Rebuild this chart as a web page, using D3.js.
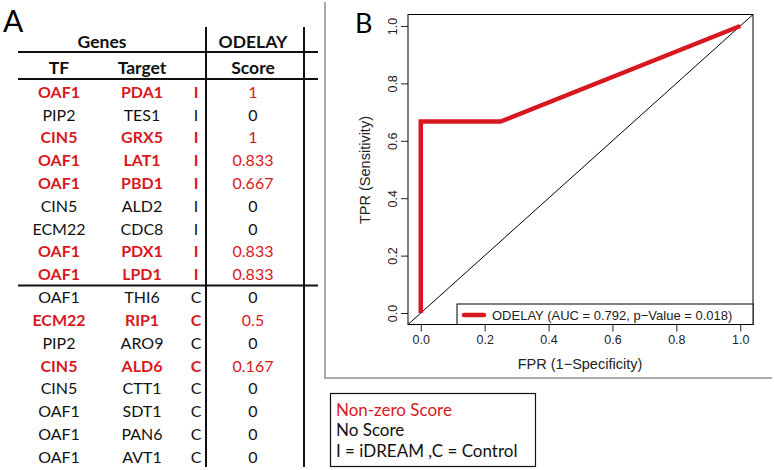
<!DOCTYPE html>
<html><head><meta charset="utf-8">
<script src="https://cdn.jsdelivr.net/npm/d3@7"></script>
<style>body{margin:0;background:#fff}svg{display:block}</style>
</head><body>
<svg id="c" width="774" height="470"></svg>
<script>
// ---- Table data (panel A) ----
const tfGenes = ["OAF1","PIP2","CIN5","OAF1","OAF1","CIN5","ECM22","OAF1","OAF1","OAF1","ECM22","PIP2","CIN5","CIN5","OAF1","OAF1","OAF1"];
const targetGenes = ["PDA1","TES1","GRX5","LAT1","PBD1","ALD2","CDC8","PDX1","LPD1","THI6","RIP1","ARO9","ALD6","CTT1","SDT1","PAN6","AVT1"];
const groups = ["I","I","I","I","I","I","I","I","I","C","C","C","C","C","C","C","C"];
const scores = ["1","0","1","0.833","0.667","0","0","0.833","0.833","0","0.5","0","0.167","0","0","0","0"];
// ---- ROC data (panel B) ----
const fpr = [0, 0, 0.25, 1];
const tpr = [0, 0.667, 0.667, 1];
const xTicks = [0, 0.2, 0.4, 0.6, 0.8, 1.0];
const yTicks = [0, 0.2, 0.4, 0.6, 0.8, 1.0];
const legendLabel = "ODELAY (AUC = 0.792, p\u2212Value = 0.018)";
const keyLines = ["Non-zero Score", "No Score", "I = iDREAM ,C = Control"];

const svg = d3.select("#c");
const RED = "#d7191f";
const tfont = "Lato, 'Open Sans', sans-serif";
const pfont = "'Liberation Sans', Arial, sans-serif";

// ===== Panel A =====
const A = svg.append("g");
A.append("text").attr("x", 3).attr("y", 32).attr("font-family", tfont).attr("font-size", 30).text("A");
const colX = {tf: 59, target: 142, grp: 196, score: 253};
const rowY = d3.scaleLinear().domain([0, tfGenes.length - 1]).range([92, 457]);
const hdr = (t, xx, yy) => A.append("text").attr("x", xx).attr("y", yy).attr("text-anchor", "middle")
  .attr("font-family", tfont).attr("font-weight", "bold").attr("font-size", 17.5).attr("fill", "#111").text(t);
hdr("Genes", 102, 48);
hdr("ODELAY", colX.score, 48);
hdr("TF", colX.tf, 74);
hdr("Target", colX.target, 74);
hdr("Score", colX.score, 74);
// lines
const ln = (x1,y1,x2,y2,w,c)=>A.append("line").attr("x1",x1).attr("y1",y1).attr("x2",x2).attr("y2",y2).attr("stroke",c||"#111").attr("stroke-width",w||1.5);
ln(18, 52, 318, 52, 1.8);
ln(18, 79, 318, 79, 1.8);
ln(18, 285.5, 318, 285.5, 1.8);
ln(206, 27, 206, 467, 2);
ln(304, 27, 304, 467, 2);
tfGenes.forEach((g, i) => {
  const hi = parseFloat(scores[i]) > 0;
  const y = rowY(i) + 5.8;
  const row = A.append("g").attr("font-family", tfont).attr("font-size", 16)
    .attr("fill", hi ? RED : "#111").attr("font-weight", hi ? "bold" : "normal");
  row.append("text").attr("x", colX.tf).attr("y", y).attr("text-anchor", "middle").text(g);
  row.append("text").attr("x", colX.target).attr("y", y).attr("text-anchor", "middle").text(targetGenes[i]);
  row.append("text").attr("x", colX.grp).attr("y", y).attr("text-anchor", "middle").text(groups[i]);
  row.append("text").attr("x", colX.score).attr("y", y).attr("text-anchor", "middle").attr("font-weight", "normal").text(scores[i]);
});

// ===== Panel B frame =====
svg.append("line").attr("x1", 325).attr("y1", 2).attr("x2", 325).attr("y2", 378).attr("stroke", "#aaa").attr("stroke-width", 2);
svg.append("line").attr("x1", 324).attr("y1", 378).attr("x2", 772).attr("y2", 378).attr("stroke", "#aaa").attr("stroke-width", 2);
svg.append("text").attr("x", 355).attr("y", 33).attr("font-family", tfont).attr("font-size", 27).text("B");

const x = d3.scaleLinear().domain([-0.04, 1.04]).range([408, 753]);
const y = d3.scaleLinear().domain([-0.04, 1.04]).range([324.5, 14.5]);
const B = svg.append("g").attr("font-family", pfont);
// diagonal
B.append("line").attr("x1", x(-0.04)).attr("y1", y(-0.04)).attr("x2", x(1.04)).attr("y2", y(1.04)).attr("stroke", "#000").attr("stroke-width", 1);
// ROC
B.append("path").datum(fpr.map((f, i) => [f, tpr[i]]))
  .attr("d", d3.line().x(d => x(d[0])).y(d => y(d[1])))
  .attr("fill", "none").attr("stroke", RED).attr("stroke-width", 4.5);
// axes
const xa = B.append("g").attr("transform", `translate(0,${y(-0.04)})`)
  .call(d3.axisBottom(x).tickValues(xTicks).tickFormat(d3.format(".1f")).tickSize(7).tickPadding(4));
const ya = B.append("g").attr("transform", `translate(${x(-0.04)},0)`)
  .call(d3.axisLeft(y).tickValues(yTicks).tickFormat(d3.format(".1f")).tickSize(7));
[xa, ya].forEach(a => { a.select(".domain").remove(); a.selectAll("text").attr("font-size", 12.5).attr("font-family", pfont).attr("fill", "#222"); a.selectAll("line").attr("stroke", "#222"); });
ya.selectAll("text").attr("x", -11).attr("y", 0).attr("dy", null).attr("text-anchor", "middle")
  .attr("transform", "rotate(-90 -11 0)");
// box
B.append("rect").attr("x", 408).attr("y", 14.5).attr("width", 345).attr("height", 310).attr("fill", "none").attr("stroke", "#000").attr("stroke-width", 1);
// axis titles
B.append("text").attr("x", 580).attr("y", 369).attr("text-anchor", "middle").attr("font-size", 14.5).attr("fill", "#222").text("FPR (1\u2212Specificity)");
B.append("text").attr("transform", "translate(370,170) rotate(-90)").attr("text-anchor", "middle").attr("font-size", 14.5).attr("fill", "#222").text("TPR (Sensitivity)");
// legend
B.append("rect").attr("x", 457).attr("y", 304).attr("width", 296).attr("height", 20.5).attr("fill", "#fff").attr("stroke", "#000").attr("stroke-width", 1);
B.append("line").attr("x1", 464).attr("y1", 315).attr("x2", 484).attr("y2", 315).attr("stroke", RED).attr("stroke-width", 4.5).attr("stroke-linecap", "round");
B.append("text").attr("x", 492).attr("y", 319.5).attr("font-size", 13).attr("fill", "#222").text(legendLabel);

// ===== Key box =====
svg.append("rect").attr("x", 330.5).attr("y", 393.5).attr("width", 205).attr("height", 73).attr("fill", "none").attr("stroke", "#111").attr("stroke-width", 1.2);
keyLines.forEach((t, i) => {
  svg.append("text").attr("x", 336).attr("y", 416 + i * 20.3).attr("font-family", tfont).attr("font-size", 17)
    .attr("fill", i === 0 ? RED : "#111").text(t);
});
</script>
</body></html>
